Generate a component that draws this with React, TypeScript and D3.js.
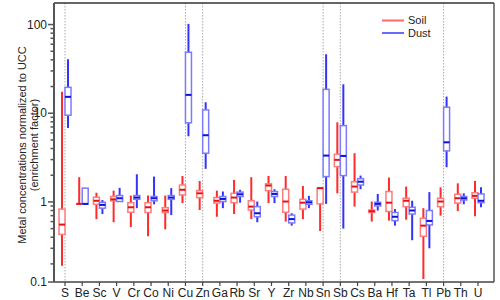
import * as d3 from "d3";

const elements = ["S", "Be", "Sc", "V", "Cr", "Co", "Ni", "Cu", "Zn", "Ga", "Rb", "Sr", "Y", "Zr", "Nb", "Sn", "Sb", "Cs", "Ba", "Hf", "Ta", "Tl", "Pb", "Th", "U"];
// elements where dust is clearly enriched (dotted guide lines)
const marked = ["S", "Cu", "Zn", "Sn", "Sb", "Pb"];

// soil: [min, q1, median, q3, max]
const soilStats = [
  [0.19, 0.43, 0.555, 0.83, 17.5],
  [0.95, 0.95, 0.95, 0.95, 1.9],
  [0.64, 0.94, 1.03, 1.13, 1.27],
  [0.59, 1.03, 1.07, 1.15, 1.34],
  [0.52, 0.765, 0.87, 0.98, 1.18],
  [0.41, 0.76, 0.87, 0.98, 1.18],
  [0.49, 0.76, 0.8, 0.86, 1.18],
  [0.97, 1.2, 1.37, 1.55, 1.96],
  [0.81, 1.12, 1.25, 1.34, 1.72],
  [0.68, 0.97, 1.03, 1.12, 1.34],
  [0.73, 0.98, 1.12, 1.25, 1.77],
  [0.64, 0.81, 0.885, 1.03, 1.9],
  [0.97, 1.34, 1.53, 1.6, 1.96],
  [0.6, 0.765, 1.01, 1.39, 1.96],
  [0.64, 0.83, 0.98, 1.07, 1.51],
  [0.47, 0.95, 1.43, 1.43, 1.43],
  [1.25, 2.5, 2.98, 3.45, 7.9],
  [0.885, 1.29, 1.49, 1.69, 3.54],
  [0.6, 0.76, 0.785, 0.81, 1.01],
  [0.615, 0.78, 0.98, 1.31, 1.88],
  [0.63, 0.885, 1.03, 1.1, 1.49],
  [0.135, 0.41, 0.54, 0.655, 0.85],
  [0.7, 0.885, 1.01, 1.1, 1.46],
  [0.79, 0.97, 1.1, 1.22, 1.62],
  [0.69, 1.1, 1.17, 1.27, 1.72],
];

// dust: [min, q1, median, q3, max]
const dustStats = [
  [6.8, 9.5, 15.3, 19.6, 40.6],
  [0.95, 0.95, 0.95, 1.43, 1.43],
  [0.73, 0.85, 0.925, 0.99, 1.05],
  [1.0, 1.01, 1.1, 1.18, 1.44],
  [0.85, 1.07, 1.12, 1.18, 2.05],
  [0.94, 1.03, 1.1, 1.15, 1.93],
  [0.71, 1.07, 1.12, 1.18, 1.43],
  [5.5, 7.8, 16.1, 48.7, 101.6],
  [2.36, 3.54, 5.65, 10.9, 13.3],
  [0.85, 1.01, 1.08, 1.15, 1.31],
  [0.98, 1.15, 1.22, 1.29, 1.37],
  [0.59, 0.68, 0.745, 0.885, 1.01],
  [0.97, 1.15, 1.23, 1.31, 1.39],
  [0.54, 0.58, 0.64, 0.71, 0.745],
  [0.85, 0.94, 0.99, 1.03, 1.17],
  [0.95, 1.93, 3.33, 18.6, 46.3],
  [0.5, 1.98, 3.3, 7.25, 21.2],
  [1.39, 1.55, 1.69, 1.83, 1.98],
  [0.8, 0.9, 0.95, 0.99, 1.23],
  [0.54, 0.615, 0.68, 0.76, 0.83],
  [0.37, 0.73, 0.8, 0.87, 1.03],
  [0.3, 0.55, 0.61, 0.8, 1.29],
  [2.46, 3.76, 4.7, 11.7, 15.4],
  [0.94, 1.05, 1.1, 1.15, 1.25],
  [0.87, 0.98, 1.03, 1.23, 1.46],
];

const majorTicks = [0.125, 1, 10, 100];
const minorTicks = [0.2, 0.3, 0.4, 0.5, 0.6, 0.7, 0.8, 0.9, 2, 3, 4, 5, 6, 7, 8, 9, 20, 30, 40, 50, 60, 70, 80, 90];

const series = [
  { name: "Soil", stats: soilStats, side: -1, whisker: "#ff2a2a", box: "#ff7b7b", median: "#e61010", legend: "#ff6a6a" },
  { name: "Dust", stats: dustStats, side: 1, whisker: "#3333ff", box: "#7b7bff", median: "#1010d8", legend: "#6a6aff" },
];

const FONT = "'Liberation Sans', Arial, sans-serif";

export default function App() {
  const left = 54;
  const right = 494;
  const top = 3;
  const bottom = 282;

  const x = d3.scalePoint<string>().domain(elements).range([65, 478]);
  const y = d3.scaleLog().domain([0.125, 175]).range([bottom, top]);
  const boxW = 6;

  return (
    <div style={{ position: "fixed", left: 0, top: 0 }}>
      <svg width={500} height={300} style={{ display: "block", fontFamily: FONT }}>
        <rect x={0} y={0} width={500} height={300} fill="#fff" />

        {marked.map((m) => (
          <line key={m} x1={x(m)} x2={x(m)} y1={top} y2={bottom} stroke="#aaa" strokeWidth={1} strokeDasharray="1.5 1.5" />
        ))}

        {series.map((s) =>
          elements.map((el, i) => {
            const [mn, q1, md, q3, mx] = s.stats[i];
            const cx = (x(el) ?? 0) + (s.side * boxW) / 2;
            const x0 = cx - boxW / 2;
            return (
              <g key={s.name + el}>
                {mx > q3 && <line x1={cx} x2={cx} y1={y(q3)} y2={y(mx)} stroke={s.whisker} strokeWidth={2} />}
                {mn < q1 && <line x1={cx} x2={cx} y1={y(q1)} y2={y(mn)} stroke={s.whisker} strokeWidth={2} />}
                <rect x={x0} y={y(q3)} width={boxW} height={Math.max(0, y(q1) - y(q3))} fill="#fff" stroke={s.box} strokeWidth={1.5} />
                <line x1={x0} x2={x0 + boxW} y1={y(md)} y2={y(md)} stroke={s.median} strokeWidth={2} />
              </g>
            );
          }),
        )}

        {/* frame */}
        <line x1={left} x2={right} y1={top} y2={top} stroke="#333" strokeWidth={1.5} />
        <line x1={right} x2={right} y1={top} y2={bottom} stroke="#555" strokeWidth={1.5} />
        <line x1={left} x2={right} y1={bottom} y2={bottom} stroke="#444" strokeWidth={1.5} />
        <line x1={left} x2={left} y1={top} y2={bottom} stroke="#555" strokeWidth={2} />

        {/* y ticks */}
        {minorTicks.map((t) => (
          <line key={"m" + t} x1={left - 3.5} x2={left} y1={y(t)} y2={y(t)} stroke="#555" strokeWidth={1.5} />
        ))}
        {majorTicks.map((t) => (
          <g key={"M" + t}>
            <line x1={left - 6} x2={left} y1={y(t)} y2={y(t)} stroke="#555" strokeWidth={1.5} />
            <text x={left - 7} y={y(t)} dy="0.35em" textAnchor="end" fontSize={12} fill="#222">
              {t < 0.2 ? "0.1" : d3.format("~g")(t)}
            </text>
          </g>
        ))}

        {/* x ticks and labels */}
        {elements.map((el) => (
          <g key={"x" + el}>
            <line x1={x(el)} x2={x(el)} y1={bottom} y2={bottom + 4} stroke="#444" strokeWidth={1.2} />
            <text x={x(el)} y={297} textAnchor="middle" fontSize={12} fill="#222">
              {el}
            </text>
          </g>
        ))}

        {/* y axis title */}
        <g transform="translate(26,145) rotate(-90)">
          <text x={0} y={0} textAnchor="middle" fontSize={11} fill="#222">
            Metal concentrations normalized to UCC
          </text>
          <text x={0} y={12} textAnchor="middle" fontSize={11} fill="#222">
            (enrichment factor)
          </text>
        </g>

        {/* legend */}
        {series.map((s, i) => (
          <g key={"lg" + s.name} transform={`translate(382,${20.5 + i * 12.5})`}>
            <line x1={0} x2={22} y1={0} y2={0} stroke={s.legend} strokeWidth={2} />
            <text x={26} y={0} dy="0.35em" fontSize={11} fill="#222">
              {s.name}
            </text>
          </g>
        ))}
      </svg>
    </div>
  );
}
